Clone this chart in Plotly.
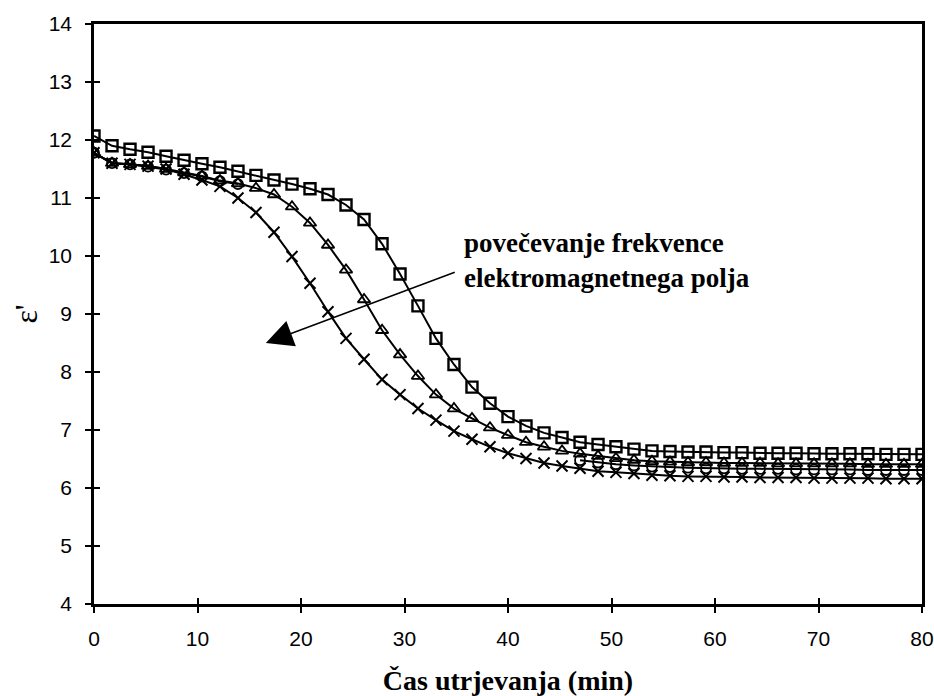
import plotly.graph_objects as go

# Time (min)
time = [0.0, 1.74, 3.48, 5.22, 6.96, 8.70, 10.43, 12.17, 13.91, 15.65,
        17.39, 19.13, 20.87, 22.61, 24.35, 26.09, 27.83, 29.57, 31.30, 33.04,
        34.78, 36.52, 38.26, 40.00, 41.74, 43.48, 45.22, 46.96, 48.70, 50.43,
        52.17, 53.91, 55.65, 57.39, 59.13, 60.87, 62.61, 64.35, 66.09, 67.83,
        69.57, 71.30, 73.04, 74.78, 76.52, 78.26, 80.00]

eps_square = [12.07, 11.90, 11.84, 11.79, 11.72, 11.65, 11.59, 11.53, 11.46, 11.39,
              11.31, 11.24, 11.16, 11.06, 10.88, 10.63, 10.21, 9.69, 9.14, 8.58,
              8.13, 7.74, 7.46, 7.23, 7.07, 6.95, 6.87, 6.79, 6.75, 6.71,
              6.67, 6.64, 6.63, 6.62, 6.62, 6.61, 6.61, 6.60, 6.60, 6.60,
              6.59, 6.59, 6.59, 6.59, 6.58, 6.58, 6.58]

eps_triangle = [11.78, 11.60, 11.58, 11.55, 11.50, 11.44, 11.38, 11.30, 11.25, 11.17,
                11.06, 10.85, 10.57, 10.19, 9.76, 9.25, 8.72, 8.30, 7.93, 7.61,
                7.37, 7.20, 7.04, 6.91, 6.79, 6.71, 6.64, 6.59, 6.55, 6.51,
                6.48, 6.46, 6.45, 6.44, 6.44, 6.43, 6.43, 6.43, 6.42, 6.42,
                6.42, 6.42, 6.42, 6.41, 6.41, 6.41, 6.41]

eps_circle = [11.78, 11.60, 11.58, 11.54, 11.49, 11.43, 11.37, 11.29, 11.24, None,
              None, None, None, None, None, None, None, None, None, None,
              None, None, None, None, None, None, None, 6.48, 6.44, 6.41,
              6.39, 6.37, 6.36, 6.35, 6.34, 6.34, 6.33, 6.33, 6.33, 6.32,
              6.32, 6.32, 6.32, 6.31, 6.31, 6.31, 6.31]

eps_cross = [11.78, 11.60, 11.58, 11.55, 11.50, 11.41, 11.31, 11.20, 11.00, 10.75,
             10.41, 9.99, 9.53, 9.04, 8.58, 8.22, 7.87, 7.61, 7.37, 7.17,
             6.98, 6.84, 6.71, 6.60, 6.51, 6.43, 6.38, 6.34, 6.29, 6.27,
             6.25, 6.22, 6.21, 6.20, 6.20, 6.19, 6.19, 6.18, 6.18, 6.18,
             6.17, 6.17, 6.17, 6.17, 6.16, 6.16, 6.16]

x_ticks = [0, 10, 20, 30, 40, 50, 60, 70, 80]
y_ticks = [4, 5, 6, 7, 8, 9, 10, 11, 12, 13, 14]

annot_text = "povečevanje frekvence<br>elektromagnetnega polja"
arrow_tail = (35.0, 9.73)
arrow_head = (16.6, 8.50)

fig = go.Figure()

line_style = dict(color="black", width=2)

fig.add_trace(go.Scatter(x=time, y=eps_cross, mode="lines+markers", line=line_style,
                         marker=dict(symbol="x-thin", size=11, line=dict(color="black", width=2)),
                         showlegend=False))
fig.add_trace(go.Scatter(x=time, y=eps_circle, mode="lines+markers", line=line_style,
                         marker=dict(symbol="circle-open", size=10, color="black", line=dict(width=1.8)),
                         showlegend=False))
fig.add_trace(go.Scatter(x=time, y=eps_triangle, mode="lines+markers", line=line_style,
                         marker=dict(symbol="triangle-up-open", size=11, color="black", line=dict(width=1.8)),
                         showlegend=False))
fig.add_trace(go.Scatter(x=time, y=eps_square, mode="lines+markers", line=line_style,
                         marker=dict(symbol="square-open", size=11, color="black", line=dict(width=2.4)),
                         showlegend=False))
# dummy trace for overlay axes (inner tick marks)
fig.add_trace(go.Scatter(x=[None], y=[None], xaxis="x2", yaxis="y2", showlegend=False,
                         hoverinfo="skip"))

tick_font = dict(family="Liberation Sans, Arial, sans-serif", size=21, color="black")
serif = "Liberation Serif, Times New Roman, serif"

fig.update_layout(
    width=934, height=696,
    margin=dict(l=94, r=12, t=24, b=92),
    paper_bgcolor="white", plot_bgcolor="white",
    xaxis=dict(range=[0, 80], tickvals=x_ticks, ticks="outside", ticklen=6, tickwidth=2,
               tickcolor="black", showline=True, linecolor="black", linewidth=2.5, mirror=True,
               showgrid=False, zeroline=False, tickfont=tick_font, ticklabelstandoff=8,
               automargin=False,
               title=dict(text="Čas utrjevanja (min)", standoff=24,
                          font=dict(family=serif, size=28, color="black", weight="bold"))),
    yaxis=dict(range=[4, 14], tickvals=y_ticks, ticks="outside", ticklen=6, tickwidth=2,
               tickcolor="black", showline=True, linecolor="black", linewidth=2.5, mirror=True,
               showgrid=False, zeroline=False, tickfont=tick_font, ticklabelstandoff=9,
               automargin=False,
               title=dict(text="ε'", standoff=2,
                          font=dict(family=serif, size=32, color="black"))),
    xaxis2=dict(range=[0, 80], tickvals=x_ticks, overlaying="x", anchor="y", side="bottom",
                ticks="inside", ticklen=6, tickwidth=2, tickcolor="black", automargin=False,
                showticklabels=False, showgrid=False, zeroline=False, showline=False),
    yaxis2=dict(range=[4, 14], tickvals=y_ticks, overlaying="y", anchor="x", side="left",
                ticks="inside", ticklen=6, tickwidth=2, tickcolor="black", automargin=False,
                showticklabels=False, showgrid=False, zeroline=False, showline=False),
    annotations=[
        dict(x=arrow_head[0], y=arrow_head[1], ax=arrow_tail[0], ay=arrow_tail[1],
             xref="x", yref="y", axref="x", ayref="y", text="", showarrow=True,
             arrowhead=2, arrowsize=3.6, arrowwidth=1.5, arrowcolor="black"),
        dict(x=35.6, y=9.93, xref="x", yref="y", text=annot_text, showarrow=False,
             xanchor="left", yanchor="middle", align="left",
             font=dict(family=serif, size=27, color="black", weight="bold")),
    ],
)

fig.write_html("out.html")
